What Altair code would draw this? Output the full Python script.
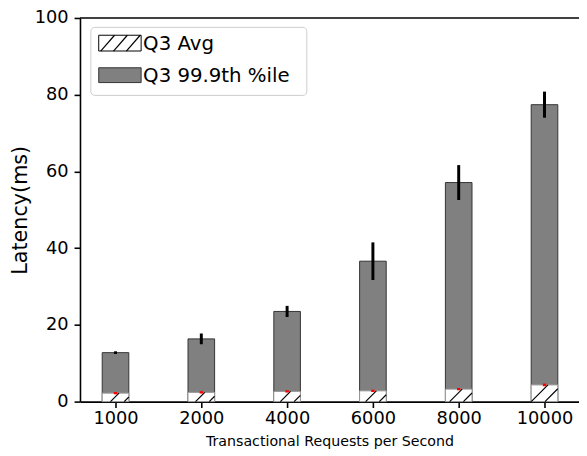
import altair as alt
import pandas as pd

# ---- data ----
categories = ["1000", "2000", "4000", "6000", "8000", "10000"]
avg = [2.2, 2.4, 2.65, 2.8, 3.25, 4.35]
avg_err = [0.3, 0.3, 0.3, 0.3, 0.3, 0.35]
p999 = [12.76, 16.35, 23.5, 36.6, 57.1, 77.4]
p999_err = [0.35, 1.4, 1.45, 4.9, 4.55, 3.4]
legend_labels = ["Q3 Avg", "Q3 99.9th %ile"]

df = pd.DataFrame({
    "idx": list(range(len(categories))),
    "cat": categories,
    "avg": avg,
    "avg_err": avg_err,
    "p999": p999,
    "p999_err": p999_err,
})

W, H = 506, 389
FONT = "DejaVu Sans"
BAR_HALF = 0.155
K = (H / 100.0) / 87.0  # index units per ms for a 45 degree hatch line

label_expr = "[" + ",".join("'%s'" % c for c in categories) + "][datum.value]"

x_scale = alt.Scale(domain=[-0.414, -0.414 + W / 87.0], nice=False, zero=False)
y_scale = alt.Scale(domain=[0, 100], nice=False)

x_axis = alt.Axis(values=list(range(len(categories))), labelExpr=label_expr,
                  title="Transactional Requests per Second", grid=False,
                  tickSize=6, tickWidth=1.6, domainWidth=1.6, domainColor="black",
                  tickColor="black", labelFontSize=18, labelFont=FONT, labelColor="black",
                  labelPadding=2, titleFont=FONT, titleFontSize=14.4,
                  titleFontWeight="normal", titleColor="black", titlePadding=8)
y_axis = alt.Axis(values=[0, 20, 40, 60, 80, 100], title="Latency(ms)", grid=False,
                  tickSize=6, tickWidth=1.6, domainWidth=1.6, domainColor="black",
                  tickColor="black", labelFontSize=18, labelFont=FONT, labelColor="black",
                  labelPadding=6, titleFont=FONT, titleFontSize=21,
                  titleFontWeight="normal", titleColor="black", titlePadding=4)

base = alt.Chart(df).transform_calculate(
    xl=f"datum.idx - {BAR_HALF}",
    xr=f"datum.idx + {BAR_HALF}",
    zero="0",
    p_lo="datum.p999 - datum.p999_err",
    p_hi="datum.p999 + datum.p999_err",
    a_lo="datum.avg - datum.avg_err",
    a_hi="datum.avg + datum.avg_err",
    h1x0=f"max(datum.idx - {BAR_HALF}, datum.idx + 0.04 - datum.avg * {K})",
    h1y0=f"(max(datum.idx - {BAR_HALF}, datum.idx + 0.04 - datum.avg * {K}) - (datum.idx + 0.04 - datum.avg * {K})) / {K}",
    h1x1="datum.idx + 0.04",
    h2x0=f"datum.idx + 0.04 - datum.avg * {K} + 0.16",
    h2x1=f"datum.idx + {BAR_HALF}",
    h2y1=f"({BAR_HALF} - 0.04 - 0.16 + datum.avg * {K}) / {K}",
)

bars_p = base.mark_bar(color="#808080", stroke="#333333", strokeWidth=1).encode(
    x=alt.X("xl:Q", scale=x_scale, axis=x_axis),
    x2="xr:Q",
    y=alt.Y("p999:Q", scale=y_scale, axis=y_axis),
    y2=alt.datum(0),
)
bars_a = base.mark_bar(color="white", stroke="#999999", strokeWidth=1).encode(
    x=alt.X("xl:Q", scale=x_scale), x2="xr:Q",
    y=alt.Y("avg:Q", scale=y_scale), y2=alt.datum(0),
)
hatch1 = base.mark_rule(color="black", strokeWidth=1.2).encode(
    x=alt.X("h1x0:Q", scale=x_scale), x2="h1x1:Q",
    y=alt.Y("h1y0:Q", scale=y_scale), y2="avg:Q",
)
hatch2 = base.transform_filter("datum.h2y1 > 0").mark_rule(color="black", strokeWidth=1.2).encode(
    x=alt.X("h2x0:Q", scale=x_scale), x2="h2x1:Q",
    y=alt.Y("zero:Q", scale=y_scale), y2="h2y1:Q",
)
err_p = base.mark_rule(color="black", strokeWidth=3).encode(
    x=alt.X("idx:Q", scale=x_scale),
    y=alt.Y("p_lo:Q", scale=y_scale), y2="p_hi:Q",
)
err_a = base.mark_rule(color="#ff0000", strokeWidth=3.5).encode(
    x=alt.X("idx:Q", scale=x_scale),
    y=alt.Y("a_lo:Q", scale=y_scale), y2="a_hi:Q",
)

one = alt.Data(values=[{"k": 1}])

top_spine = alt.Chart(one).mark_rule(color="black", strokeWidth=1.6).encode(
    x=alt.value(0), x2=alt.value(W), y=alt.value(0)
)

# ---- legend (drawn by hand, pixel positions inside the plot) ----
leg_box = alt.Chart(one).mark_rect(fill="white", fillOpacity=0.8, stroke="#cccccc",
                                   strokeWidth=1, cornerRadius=4).encode(
    x=alt.value(11), x2=alt.value(230), y=alt.value(9.5), y2=alt.value(78.5)
)
sw1 = alt.Chart(one).mark_rect(fill="white", stroke="black", strokeWidth=1).encode(
    x=alt.value(19), x2=alt.value(62), y=alt.value(17.5), y2=alt.value(33.5)
)
sw2 = alt.Chart(one).mark_rect(fill="#808080", stroke="#333333", strokeWidth=1).encode(
    x=alt.value(19), x2=alt.value(62), y=alt.value(50.5), y2=alt.value(65.5)
)
leg_hatch = []
for bx in [21, 34, 47]:
    leg_hatch.append(alt.Chart(one).mark_rule(color="black", strokeWidth=1.2).encode(
        x=alt.value(bx), x2=alt.value(min(bx + 14, 62)),
        y=alt.value(33.5), y2=alt.value(33.5 - (min(bx + 14, 62) - bx) * 16 / 14)
    ))
txt1 = alt.Chart(one).mark_text(align="left", baseline="middle", font=FONT, fontSize=20,
                                color="black", text=legend_labels[0]).encode(
    x=alt.value(64), y=alt.value(26)
)
txt2 = alt.Chart(one).mark_text(align="left", baseline="middle", font=FONT, fontSize=20,
                                color="black", text=legend_labels[1]).encode(
    x=alt.value(64), y=alt.value(58.5)
)

chart = alt.layer(
    bars_p, bars_a, hatch1, hatch2, err_p, err_a, top_spine,
    leg_box, sw1, sw2, *leg_hatch, txt1, txt2
).properties(
    width=W, height=H,
    autosize=alt.AutoSizeParams(type="none"),
    padding={"left": 73, "top": 7, "right": 0, "bottom": 49},
).configure_view(stroke=None)

chart.save("out.html", embed_options={"renderer": "svg", "actions": False})
